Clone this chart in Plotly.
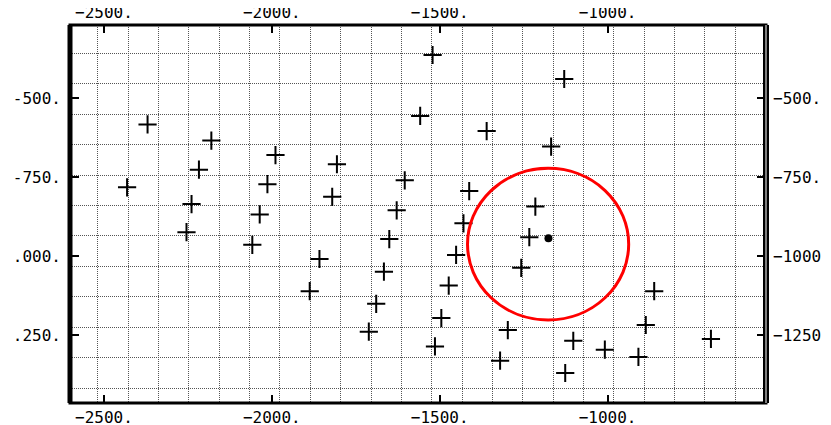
import plotly.graph_objects as go

# crosses
star_x = [-1521, -1129, -2370, -1558, -1360, -2180, -1168, -1989, -2217, -1806,
          -2431, -2013, -1604, -1412, -2239, -1820, -1215, -2036, -1628, -2254,
          -1429, -1233, -1650, -2058, -1451, -1858, -1257, -1666, -1473, -1887,
          -861, -1689, -1495, -886, -1711, -1297, -1102, -692, -1514, -1008,
          -908, -1320, -1126]
star_y = [-363, -439, -583, -556, -604, -634, -653, -680, -726, -709,
          -782, -772, -760, -794, -835, -812, -843, -868, -855, -924,
          -896, -940, -946, -964, -996, -1009, -1037, -1049, -1093, -1111,
          -1111, -1151, -1196, -1218, -1239, -1234, -1268, -1262, -1286, -1296,
          -1319, -1331, -1370]

# selected point and search circle
dot_x = [-1176]
dot_y = [-943]
ring_cx = -1177
ring_cy = -962
ring_r = 240

x_ticks = [-2500, -2000, -1500, -1000]
x_labels = ['\u22122500.', '\u22122000.', '\u22121500.', '\u22121000.']
y_ticks = [-500, -750, -1000, -1250]
y_left_labels = ['-500.', '-750.', '.000.', '.250.']
y_right_labels = ['\u2212500.', '\u2212750.', '\u22121000.', '\u22121250.']

x_range = [-2601, -528]
y_range = [-1465, -268]

font = dict(family='DejaVu Sans Mono', size=16, color='black')
grid = dict(showgrid=True, gridcolor='#555', griddash='1px,1px', gridwidth=1,
            ticks='', tickmode='linear')
tick_style = dict(ticks='inside', tickwidth=2, tickcolor='black', automargin=False,
                  showgrid=False, zeroline=False, showline=False)

fig = go.Figure()
fig.add_trace(go.Scatter(x=star_x, y=star_y, mode='markers',
                         marker=dict(symbol='cross-thin', size=13,
                                     line=dict(width=2, color='black'))))
# the dot sits on the top/right axes so those get drawn too
fig.add_trace(go.Scatter(x=dot_x, y=dot_y, mode='markers', xaxis='x2', yaxis='y2',
                         marker=dict(symbol='circle', size=8, color='black')))

fig.add_shape(type='circle', xref='x', yref='y',
              x0=ring_cx - ring_r, x1=ring_cx + ring_r,
              y0=ring_cy - ring_r, y1=ring_cy + ring_r,
              line=dict(color='#ff0000', width=3))
# frame
fig.add_shape(type='rect', xref='paper', yref='paper', x0=0, x1=1, y0=0, y1=1,
              line=dict(color='black', width=3))
fig.add_shape(type='line', xref='paper', yref='paper', x0=0, x1=0, y0=0, y1=1,
              line=dict(color='black', width=5))
fig.add_shape(type='line', xref='paper', yref='paper', x0=1, x1=1, y0=0, y1=1,
              line=dict(color='black', width=6))
fig.add_shape(type='line', xref='paper', yref='paper', x0=1, x1=1, y0=0, y1=1,
              line=dict(color='white', width=1))

# page body has an 8px margin, so the margins are shifted by that
fig.update_layout(
    width=831, height=425,
    margin=dict(l=62, r=73, t=17, b=30),
    paper_bgcolor='white', plot_bgcolor='white',
    showlegend=False,
    font=font,
    xaxis=dict(range=x_range, tickmode='array', tickvals=x_ticks, ticktext=x_labels,
               ticklen=8, ticklabelstandoff=3,
               minor=dict(tick0=-2518, dtick=90.4, **grid), **tick_style),
    xaxis2=dict(range=x_range, overlaying='x', matches='x', side='top', anchor='y',
                tickmode='array', tickvals=x_ticks, ticktext=x_labels,
                ticklen=8, ticklabelstandoff=3, **tick_style),
    yaxis=dict(range=y_range, tickmode='array', tickvals=y_ticks, ticktext=y_left_labels,
               ticklen=9, ticklabelstandoff=8,
               minor=dict(tick0=-357, dtick=96.5, **grid), **tick_style),
    yaxis2=dict(range=y_range, overlaying='y', matches='y', side='right', anchor='x',
                tickmode='array', tickvals=y_ticks, ticktext=y_right_labels,
                ticklen=9, ticklabelstandoff=6, **tick_style),
)

fig.write_html('out.html')
